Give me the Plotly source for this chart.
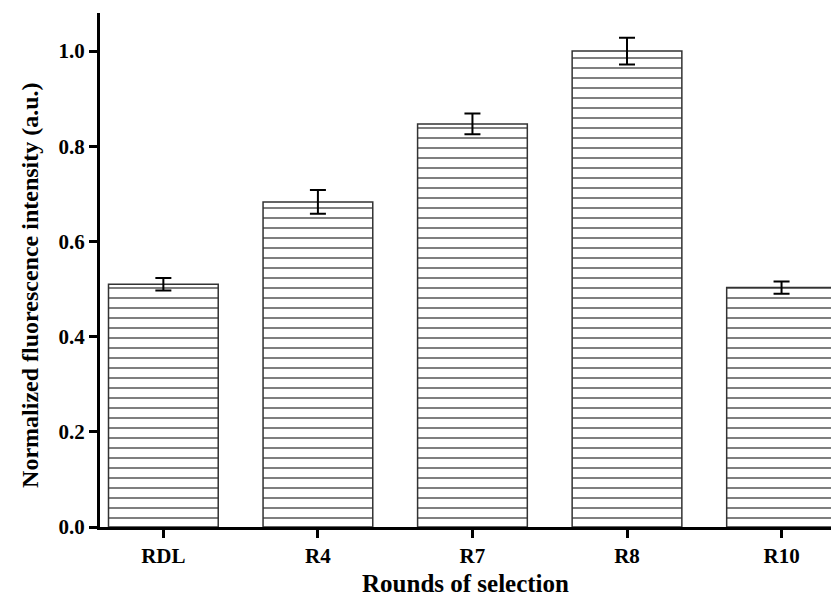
import plotly.graph_objects as go

categories = ["RDL", "R4", "R7", "R8", "R10"]
values = [0.51, 0.683, 0.847, 1.0, 0.503]
errors = [0.013, 0.025, 0.022, 0.028, 0.013]
y_ticks = [0.0, 0.2, 0.4, 0.6, 0.8, 1.0]

FONT = "Liberation Serif"

fig = go.Figure()
fig.add_trace(go.Bar(
    x=list(range(len(categories))),
    y=values,
    width=0.71,
    marker=dict(
        color="white",
        line=dict(color="#333333", width=1.5),
        pattern=dict(shape="-", fgcolor="black", bgcolor="white", size=10, solidity=0.2),
    ),
    error_y=dict(type="data", array=errors, visible=True, color="black", thickness=2, width=8),
))

fig.update_layout(
    width=831, height=597,
    margin=dict(l=100, r=0, t=13, b=70),
    plot_bgcolor="white", paper_bgcolor="white",
    showlegend=False,
    font=dict(family=FONT, color="black"),
    xaxis=dict(
        range=[-0.41, 4.32],
        tickmode="array", tickvals=list(range(len(categories))), ticktext=categories,
        ticks="outside", ticklen=8, tickwidth=2.5, tickcolor="black",
        showline=True, linecolor="black", linewidth=3,
        showgrid=False, zeroline=False,
        tickfont=dict(family=FONT, size=21, color="black", weight="bold"),
        title=dict(text="Rounds of selection", font=dict(family=FONT, size=25, color="black", weight="bold"), standoff=12),
        automargin=False,
    ),
    yaxis=dict(
        range=[0, 1.08],
        tickmode="array", tickvals=y_ticks, ticktext=[f"{v:.1f}" for v in y_ticks],
        ticks="outside", ticklen=8, tickwidth=2.5, tickcolor="black",
        showline=True, linecolor="black", linewidth=3,
        showgrid=False, zeroline=False,
        tickfont=dict(family=FONT, size=21, color="black", weight="bold"),
        automargin=False,
    ),
    annotations=[dict(
        text="Normalized fluorescence intensity (a.u.)",
        xref="paper", yref="paper", x=-0.0958, y=0.471,
        xanchor="center", yanchor="middle", textangle=-90, showarrow=False,
        font=dict(family=FONT, size=24, color="black", weight="bold"),
    )],
)

fig.write_html("out.html", config={"displayModeBar": False},
               post_script="document.body.style.margin='0';")
